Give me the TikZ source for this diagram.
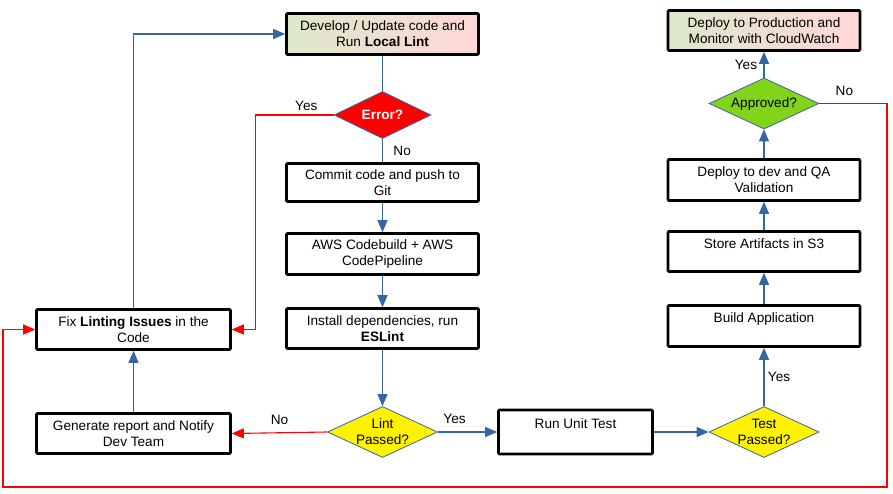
\documentclass[tikz,border=0pt]{standalone}
\usepackage{fontspec}
\setmainfont{Liberation Sans}
\usetikzlibrary{shapes.geometric,arrows.meta}
\definecolor{flowblue}{RGB}{52,101,164}
\definecolor{startleft}{RGB}{221,232,203}
\definecolor{startright}{RGB}{255,215,215}
\definecolor{okgreen}{RGB}{129,212,26}

\begin{document}
\begin{tikzpicture}[
    x=1pt, y=-1pt,
    font=\fontsize{13.6}{16}\selectfont,
    box/.style={
        rectangle,
        rounded corners=1pt,
        draw,
        line width=2.6pt,
        align=center,
        minimum width=192pt,
        minimum height=41pt,
        inner sep=2pt
    },
    start/.style={
        box,
        left color=startleft,
        right color=startright
    },
    decision/.style={
        diamond,
        draw=flowblue,
        line width=0.8pt,
        align=center,
        aspect=2.1,
        inner sep=-1pt,
        minimum width=110pt,
        minimum height=51pt
    },
    link/.style={draw=flowblue, line width=1.2pt},
    flow/.style={link, -{Triangle[length=12pt,width=10pt]}},
    fail/.style={draw=red, line width=1.1pt, -{Triangle[length=12pt,width=10pt]}}
]

\useasboundingbox (0,0) rectangle (893,494);

\node[start] (dev) at (382.5,34) {Develop / Update code and\\Run \textbf{Local Lint}};

\node[decision, fill=red, text=white, font=\fontsize{13.6}{16}\selectfont\bfseries,
    minimum width=97pt, minimum height=47pt] (err) at (382.5,115) {Error?};

\node[box, minimum height=38pt] (commit) at (382.5,182.5) {Commit code and push to\\Git};

\node[box] (aws) at (382.5,254) {AWS Codebuild + AWS\\CodePipeline};

\node[box, minimum height=40pt] (install) at (382.5,328.5) {Install dependencies, run\\\textbf{ESLint}};

\node[decision, fill=yellow] (lint) at (382.5,432) {Lint\\Passed?};

\node[box, minimum width=194pt, minimum height=40pt] (fix) at (133.5,329.5)
    {Fix \textbf{Linting Issues} in the\\Code};

\node[box, minimum width=194pt, minimum height=40pt] (report) at (133.5,433.5)
    {Generate report and Notify\\Dev Team};

\node[box, minimum width=154pt, minimum height=44pt] (unit) at (575.5,432) {Run Unit Test\\~};

\node[decision, fill=yellow] (test) at (764,432) {Test\\Passed?};

\node[box] (build) at (764,326) {Build Application\\~};

\node[box, minimum height=40pt] (store) at (764,251.5) {Store Artifacts in S3\\~};

\node[box] (devqa) at (764,180) {Deploy to dev and QA\\Validation};

\node[decision, fill=okgreen] (appr) at (764,103.5) {Approved?};

\node[start, minimum height=40pt] (prod) at (764,30.5) {Deploy to Production and\\Monitor with CloudWatch};

\coordinate (loopse) at (887,487);
\coordinate (loopsw) at (3,487);

\draw[link] (dev) -- (err);
\draw[link] (err) -- node[right=7pt] {No} (commit);
\draw[fail] (err.west) -- node[above, pos=0.35] {Yes} ++(-78,0) |- (fix.east);
\draw[flow] (commit) -- (aws);
\draw[flow] (aws) -- (install);
\draw[flow] (install) -- (lint);
\draw[fail] (lint.west) -- node[above=4pt] {No} (report.east);
\draw[flow] (lint.east) -- node[above=4pt, pos=0.28] {Yes} (unit.west);
\draw[flow] (report) -- (fix);
\draw[flow] (fix.north) |- (dev.west);
\draw[flow] (unit) -- (test);
\draw[flow] (test) -- node[right] {Yes} (build);
\draw[flow] (build) -- (store);
\draw[flow] (store) -- (devqa);
\draw[flow] (devqa) -- (appr);
\draw[flow] (appr) -- node[left=3pt] {Yes} (prod);
\draw[fail] (appr.east) -- node[above=4pt, pos=0.37] {No} (appr.east -| loopse)
    -- (loopse) -- (loopsw) |- (fix.west);

\end{tikzpicture}
\end{document}
